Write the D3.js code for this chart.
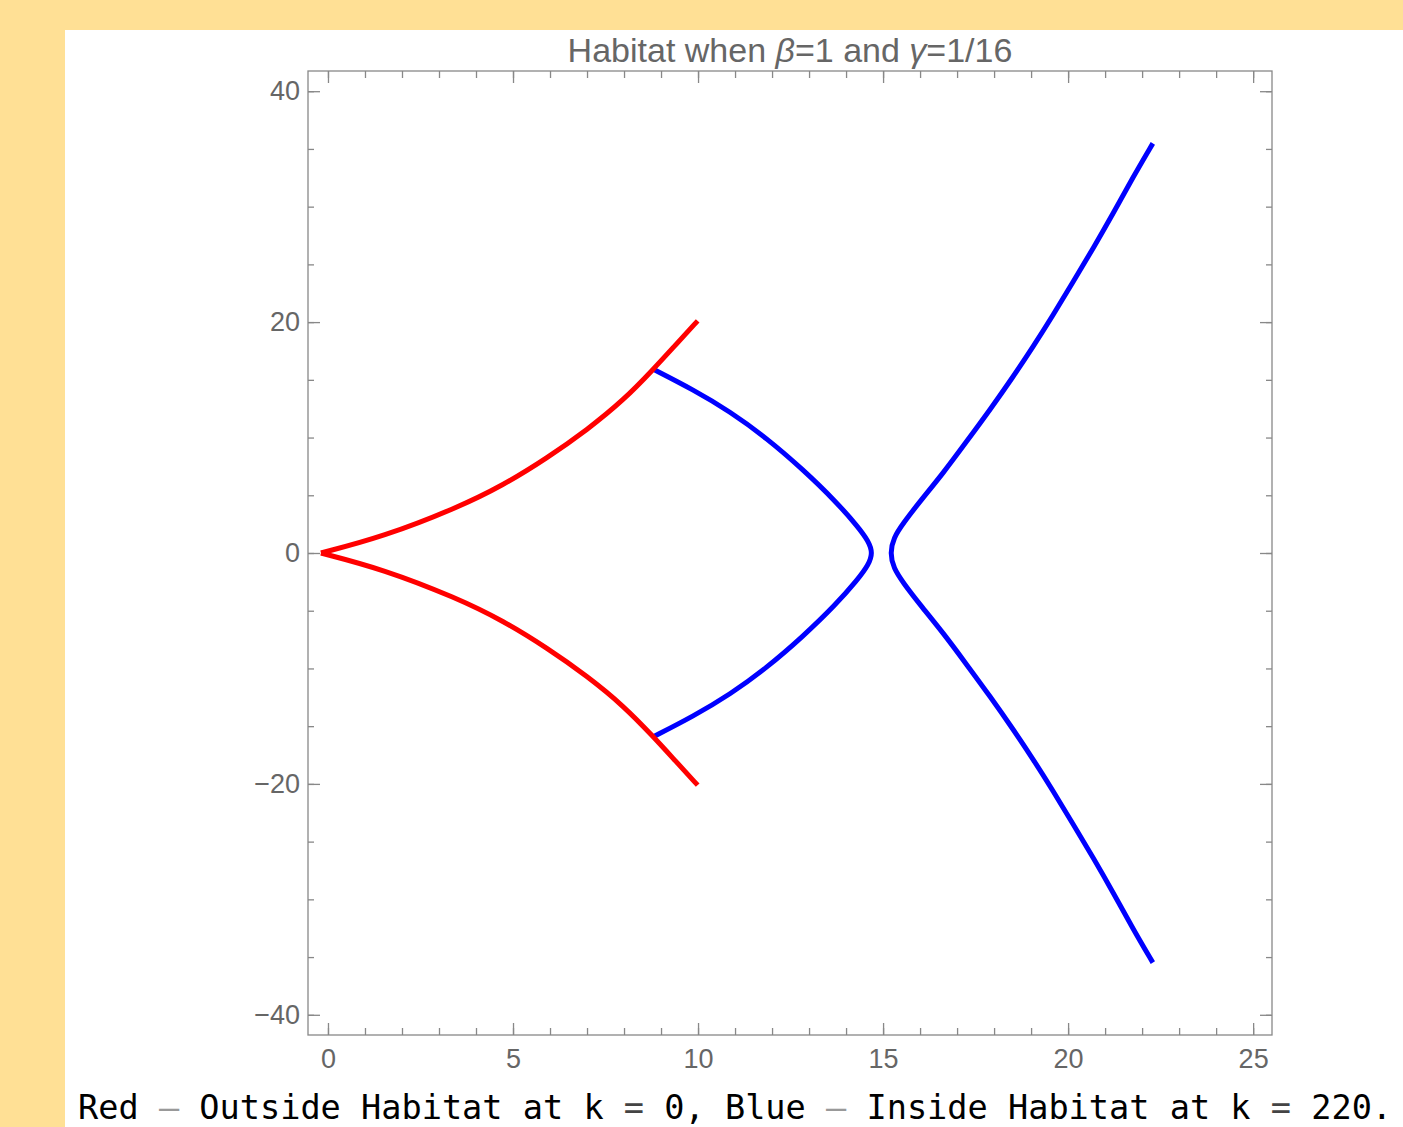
<!DOCTYPE html>
<html>
<head>
<meta charset="utf-8">
<script src="https://cdn.jsdelivr.net/npm/d3@7"></script>
<style>
  html, body { margin: 0; padding: 0; background: #ffe095; }
  svg { display: block; }
</style>
</head>
<body>
<svg id="chart" width="1403" height="1127"></svg>
<script>
// values
const redUpperX = [-0.19, 1.49, 3.46, 4.74, 5.92, 7.01, 8.00, 8.78, 9.38, 9.99];
const redUpperY = [0, 1.41, 3.87, 5.88, 8.23, 10.68, 13.28, 15.87, 17.98, 20.11];
const redLowerX = [-0.19, 1.49, 3.46, 4.74, 5.92, 7.01, 8.00, 8.78, 9.38, 9.99];
const redLowerY = [0, -1.41, -3.87, -5.88, -8.23, -10.68, -13.28, -15.87, -17.98, -20.11];

const blueLeftX = [8.78, 9.87, 10.86, 11.85, 12.84, 13.72, 14.31, 14.61, 14.72,
                   14.61, 14.31, 13.72, 12.84, 11.85, 10.86, 9.87, 8.78];
const blueLeftY = [15.93, 14.14, 12.26, 9.96, 7.22, 4.48, 2.32, 1.02, 0,
                   -1.02, -2.32, -4.48, -7.22, -9.96, -12.26, -14.14, -15.93];

const blueRightX = [22.29, 21.76, 21.22, 20.68, 20.14, 19.60, 19.06, 18.52, 17.89, 17.26, 16.63, 16.00, 15.55, 15.28, 15.19,
                    15.28, 15.55, 16.00, 16.63, 17.26, 17.89, 18.52, 19.06, 19.60, 20.14, 20.68, 21.22, 21.76, 22.29];
const blueRightY = [35.48, 32.59, 29.42, 26.40, 23.51, 20.63, 17.89, 15.29, 12.41, 9.67, 6.94, 4.48, 2.61, 1.31, 0,
                    -1.31, -2.61, -4.48, -6.94, -9.67, -12.41, -15.29, -17.89, -20.63, -23.51, -26.40, -29.42, -32.59, -35.48];

const xMajor = [0, 5, 10, 15, 20, 25];
const xMinor = d3.range(0, 26);
const yMajor = [-40, -20, 0, 20, 40];
const yMinor = d3.range(-40, 41, 5);

const svg = d3.select("#chart");

// white panel
svg.append("rect")
  .attr("x", 65).attr("y", 30)
  .attr("width", 1403 - 65).attr("height", 1127 - 30)
  .attr("fill", "#ffffff");

const pLeft = 308, pRight = 1272, pTop = 71, pBottom = 1035;

const x = d3.scaleLinear().domain([-0.54, 25.51]).range([pLeft, pRight]);
const y = d3.scaleLinear().domain([-41.75, 41.75]).range([pBottom, pTop]);

const axisColor = "#888888";
const labelColor = "#666666";

function styleAxis(g) {
  g.select(".domain").remove();
  g.selectAll(".tick line").attr("stroke", axisColor).attr("stroke-width", 1.3);
  g.selectAll(".tick text")
    .attr("fill", labelColor)
    .style("font-family", "'Liberation Sans', Arial, sans-serif")
    .style("font-size", "27px");
}

// minor ticks on all four sides
svg.append("g").attr("transform", `translate(0,${pBottom})`)
  .call(d3.axisBottom(x).tickValues(xMinor).tickSize(-7).tickFormat(""))
  .call(styleAxis);
svg.append("g").attr("transform", `translate(0,${pTop})`)
  .call(d3.axisTop(x).tickValues(xMinor).tickSize(-7).tickFormat(""))
  .call(styleAxis);
svg.append("g").attr("transform", `translate(${pLeft},0)`)
  .call(d3.axisLeft(y).tickValues(yMinor).tickSize(-6).tickFormat(""))
  .call(styleAxis);
svg.append("g").attr("transform", `translate(${pRight},0)`)
  .call(d3.axisRight(y).tickValues(yMinor).tickSize(-6).tickFormat(""))
  .call(styleAxis);

// major ticks
const fmt = d => d < 0 ? "\u2212" + Math.abs(d) : String(d);
svg.append("g").attr("transform", `translate(0,${pBottom})`)
  .call(d3.axisBottom(x).tickValues(xMajor).tickSize(-12).tickPadding(14).tickFormat(fmt))
  .call(styleAxis);
svg.append("g").attr("transform", `translate(0,${pTop})`)
  .call(d3.axisTop(x).tickValues(xMajor).tickSize(-12).tickFormat(""))
  .call(styleAxis);
svg.append("g").attr("transform", `translate(${pLeft},0)`)
  .call(d3.axisLeft(y).tickValues(yMajor).tickSize(-12).tickPadding(8).tickFormat(fmt))
  .call(styleAxis);
svg.append("g").attr("transform", `translate(${pRight},0)`)
  .call(d3.axisRight(y).tickValues(yMajor).tickSize(-12).tickFormat(""))
  .call(styleAxis);

// frame
svg.append("rect")
  .attr("x", pLeft).attr("y", pTop)
  .attr("width", pRight - pLeft).attr("height", pBottom - pTop)
  .attr("fill", "none").attr("stroke", axisColor).attr("stroke-width", 1.3);

// curves (basis spline smooths out reading noise, keeps the end points)
const line = d3.line().x(d => x(d[0])).y(d => y(d[1])).curve(d3.curveBasis);
const curves = [
  { xs: blueLeftX, ys: blueLeftY, color: "#0000ff" },
  { xs: blueRightX, ys: blueRightY, color: "#0000ff" },
  { xs: redUpperX, ys: redUpperY, color: "#ff0000" },
  { xs: redLowerX, ys: redLowerY, color: "#ff0000" }
];
svg.append("g").selectAll("path")
  .data(curves)
  .join("path")
  .attr("d", c => line(c.xs.map((v, i) => [v, c.ys[i]])))
  .attr("fill", "none")
  .attr("stroke", c => c.color)
  .attr("stroke-width", 5)
  .attr("stroke-linejoin", "round");

// title
const title = svg.append("text")
  .attr("x", (pLeft + pRight) / 2).attr("y", 62)
  .attr("text-anchor", "middle")
  .attr("fill", "#666666")
  .style("font-family", "'Liberation Sans', Arial, sans-serif")
  .style("font-size", "34px");
title.append("tspan").text("Habitat when ");
title.append("tspan").style("font-style", "italic").text("\u03b2");
title.append("tspan").text("=1 and ");
title.append("tspan").style("font-style", "italic").text("\u03b3");
title.append("tspan").text("=1/16");

// caption
const cap = svg.append("text")
  .attr("x", 78).attr("y", 1119)
  .attr("fill", "#000000")
  .style("font-family", "'DejaVu Sans Mono', monospace")
  .style("font-size", "33.6px");
const parts = [
  ["Red ", "#000"], ["\u2013", "#999"], [" Outside Habitat at k ", "#000"], ["=", "#444"],
  [" 0, Blue ", "#000"], ["\u2013", "#999"], [" Inside Habitat at k ", "#000"], ["=", "#444"], [" 220.", "#000"]
];
parts.forEach(p => cap.append("tspan").attr("fill", p[1]).text(p[0]));
</script>
</body>
</html>
